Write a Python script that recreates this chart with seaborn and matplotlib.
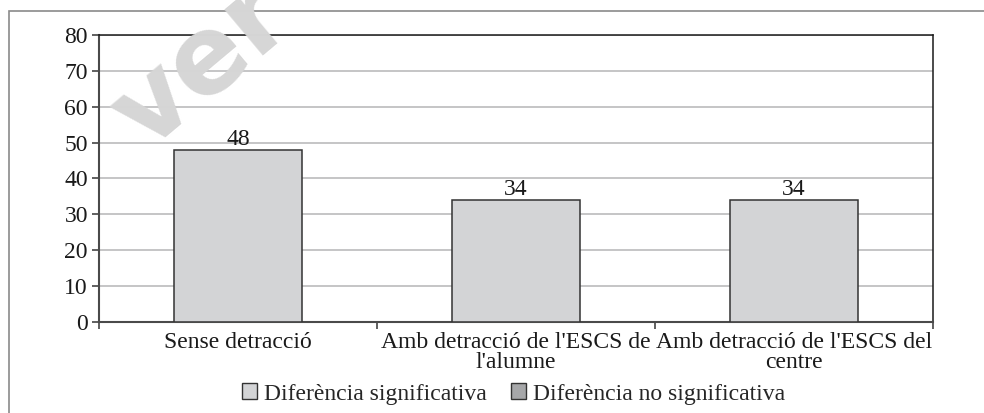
import matplotlib
matplotlib.use("Agg")
import matplotlib.pyplot as plt
from matplotlib.patches import Patch, Rectangle
import seaborn as sns
import pandas as pd

categories = [
    "Sense detracció",
    "Amb detracció de l'ESCS de\nl'alumne",
    "Amb detracció de l'ESCS del\ncentre",
]
values = [48, 34, 34]
series_names = ["Diferència significativa", "Diferència no significativa"]
series_colors = ["#d3d4d6", "#a6a7a9"]
y_ticks = [0, 10, 20, 30, 40, 50, 60, 70, 80]

df = pd.DataFrame({"categoria": categories, "valor": values})

sns.set_theme(style="white")
plt.rcParams["font.family"] = ["Liberation Serif", "DejaVu Serif"]

FS = 17

fig = plt.figure(figsize=(9.84, 4.13), dpi=100)
ax = fig.add_axes([0.1006, 0.2203, 0.8476, 0.6950])

# Outer chart frame
fig.patches.append(Rectangle((9 / 984, -0.05), 1.2, 1.05 - 11 / 413,
                             transform=fig.transFigure, fill=False,
                             edgecolor="#8a8a8a", linewidth=1.2, zorder=0))

# Faint background watermark
fig.text(0.148, 0.63, "ver", fontsize=78, fontweight="bold",
         family="DejaVu Sans", color="#d6d6d6", rotation=40,
         rotation_mode="anchor", ha="left", va="baseline", zorder=0)

sns.barplot(data=df, x="categoria", y="valor", ax=ax, color=series_colors[0],
            width=0.46, edgecolor="#333333", linewidth=1.1, saturation=1,
            zorder=3)

ax.set_ylim(0, 80)
ax.set_xlim(-0.5, 2.5)
ax.set_yticks(y_ticks)
ax.set_yticklabels([str(t) for t in y_ticks], fontsize=FS, color="#1a1a1a")
ax.yaxis.grid(True, color="#b5b5b6", linewidth=1.1, zorder=0)
ax.set_axisbelow(True)

# Category boundaries as major ticks, labels at centres as minor ticks
ax.set_xticks([-0.5, 0.5, 1.5, 2.5])
ax.set_xticklabels([])
ax.set_xticks([0, 1, 2], minor=True)
ax.set_xticklabels(categories, minor=True, fontsize=FS, color="#1a1a1a",
                   linespacing=0.95)
ax.tick_params(axis="x", which="major", direction="out", length=5,
               color="#444444", width=1.2, bottom=True)
ax.tick_params(axis="x", which="minor", length=0, pad=7)
ax.tick_params(axis="y", direction="out", length=5, color="#444444",
               width=1.2, left=True, pad=3)

ax.set_xlabel("")
ax.set_ylabel("")

for side in ["left", "bottom"]:
    ax.spines[side].set_color("#4a4a4a")
    ax.spines[side].set_linewidth(1.5)
for side in ["top", "right"]:
    ax.spines[side].set_visible(True)
    ax.spines[side].set_color("#1a1a1a")
    ax.spines[side].set_linewidth(1.1)

for cont in ax.containers:
    ax.bar_label(cont, labels=[str(v) for v in values], fontsize=FS,
                 color="#1a1a1a", padding=0)

handles = [Patch(facecolor=c, edgecolor="#333333", linewidth=1.0)
           for c in series_colors]
fig.legend(handles, series_names, loc="center", bbox_to_anchor=(0.522, 0.046),
           ncol=2, frameon=False, fontsize=FS, handlelength=0.65,
           handleheight=0.65, handletextpad=0.3, columnspacing=1.0)

fig.savefig("out.png", dpi=100)
